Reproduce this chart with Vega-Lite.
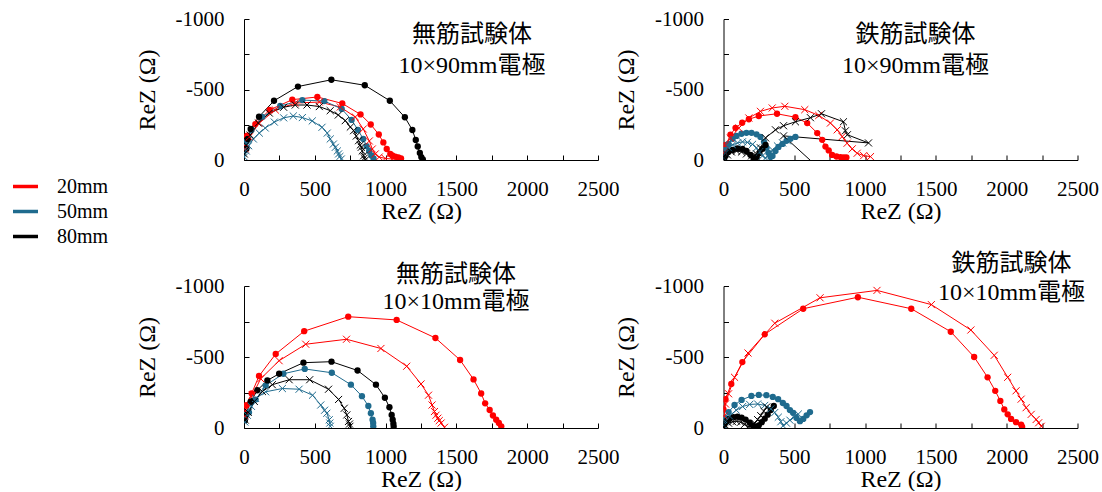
{
"$schema": "https://vega.github.io/schema/vega-lite/v6.json",
"padding": {"left": 11, "top": 8, "right": 0, "bottom": 0},
"autosize": {"type": "pad"},
"datasets": {"d": [
{"p":"A","s":"20mm","m":"o","x":6,"y":-92},{"p":"A","s":"20mm","m":"o","x":21,"y":-172},{"p":"A","s":"20mm","m":"o","x":80,"y":-255},{"p":"A","s":"20mm","m":"o","x":181,"y":-355},{"p":"A","s":"20mm","m":"o","x":341,"y":-428},{"p":"A","s":"20mm","m":"o","x":518,"y":-447},{"p":"A","s":"20mm","m":"o","x":694,"y":-401},{"p":"A","s":"20mm","m":"o","x":823,"y":-323},{"p":"A","s":"20mm","m":"o","x":895,"y":-252},{"p":"A","s":"20mm","m":"o","x":952,"y":-181},{"p":"A","s":"20mm","m":"o","x":984,"y":-125},{"p":"A","s":"20mm","m":"o","x":1008,"y":-78},{"p":"A","s":"20mm","m":"o","x":1033,"y":-43},{"p":"A","s":"20mm","m":"o","x":1047,"y":-32},{"p":"A","s":"20mm","m":"o","x":1068,"y":-23},{"p":"A","s":"20mm","m":"o","x":1090,"y":-18},{"p":"A","s":"20mm","m":"o","x":1109,"y":-12},
{"p":"A","s":"20mm","m":"x","x":9,"y":-78},{"p":"A","s":"20mm","m":"x","x":37,"y":-163},{"p":"A","s":"20mm","m":"x","x":108,"y":-262},{"p":"A","s":"20mm","m":"x","x":221,"y":-355},{"p":"A","s":"20mm","m":"x","x":362,"y":-404},{"p":"A","s":"20mm","m":"x","x":532,"y":-411},{"p":"A","s":"20mm","m":"x","x":680,"y":-376},{"p":"A","s":"20mm","m":"x","x":786,"y":-305},{"p":"A","s":"20mm","m":"x","x":842,"y":-220},{"p":"A","s":"20mm","m":"x","x":885,"y":-135},{"p":"A","s":"20mm","m":"x","x":906,"y":-78},{"p":"A","s":"20mm","m":"x","x":927,"y":-43},{"p":"A","s":"20mm","m":"x","x":955,"y":-21},{"p":"A","s":"20mm","m":"x","x":997,"y":-11},{"p":"A","s":"20mm","m":"x","x":1047,"y":-7},
{"p":"A","s":"50mm","m":"o","x":2,"y":-64},{"p":"A","s":"50mm","m":"o","x":16,"y":-128},{"p":"A","s":"50mm","m":"o","x":52,"y":-213},{"p":"A","s":"50mm","m":"o","x":129,"y":-305},{"p":"A","s":"50mm","m":"o","x":256,"y":-383},{"p":"A","s":"50mm","m":"o","x":412,"y":-425},{"p":"A","s":"50mm","m":"o","x":567,"y":-418},{"p":"A","s":"50mm","m":"o","x":690,"y":-362},{"p":"A","s":"50mm","m":"o","x":760,"y":-284},{"p":"A","s":"50mm","m":"o","x":805,"y":-213},{"p":"A","s":"50mm","m":"o","x":842,"y":-149},{"p":"A","s":"50mm","m":"o","x":866,"y":-99},{"p":"A","s":"50mm","m":"o","x":884,"y":-64},{"p":"A","s":"50mm","m":"o","x":900,"y":-32},{"p":"A","s":"50mm","m":"o","x":915,"y":-11},
{"p":"A","s":"50mm","m":"x","x":2,"y":-21},{"p":"A","s":"50mm","m":"x","x":16,"y":-64},{"p":"A","s":"50mm","m":"x","x":33,"y":-101},{"p":"A","s":"50mm","m":"x","x":66,"y":-149},{"p":"A","s":"50mm","m":"x","x":108,"y":-191},{"p":"A","s":"50mm","m":"x","x":150,"y":-227},{"p":"A","s":"50mm","m":"x","x":214,"y":-269},{"p":"A","s":"50mm","m":"x","x":280,"y":-299},{"p":"A","s":"50mm","m":"x","x":348,"y":-312},{"p":"A","s":"50mm","m":"x","x":412,"y":-301},{"p":"A","s":"50mm","m":"x","x":482,"y":-277},{"p":"A","s":"50mm","m":"x","x":551,"y":-232},{"p":"A","s":"50mm","m":"x","x":588,"y":-191},{"p":"A","s":"50mm","m":"x","x":609,"y":-149},{"p":"A","s":"50mm","m":"x","x":631,"y":-113},{"p":"A","s":"50mm","m":"x","x":645,"y":-90},{"p":"A","s":"50mm","m":"x","x":659,"y":-64},{"p":"A","s":"50mm","m":"x","x":668,"y":-43},{"p":"A","s":"50mm","m":"x","x":677,"y":-25},{"p":"A","s":"50mm","m":"x","x":687,"y":-7},
{"p":"A","s":"80mm","m":"o","x":16,"y":-78},{"p":"A","s":"80mm","m":"o","x":27,"y":-149},{"p":"A","s":"80mm","m":"o","x":47,"y":-220},{"p":"A","s":"80mm","m":"o","x":106,"y":-307},{"p":"A","s":"80mm","m":"o","x":212,"y":-420},{"p":"A","s":"80mm","m":"o","x":381,"y":-521},{"p":"A","s":"80mm","m":"o","x":617,"y":-569},{"p":"A","s":"80mm","m":"o","x":853,"y":-530},{"p":"A","s":"80mm","m":"o","x":1030,"y":-420},{"p":"A","s":"80mm","m":"o","x":1136,"y":-303},{"p":"A","s":"80mm","m":"o","x":1189,"y":-213},{"p":"A","s":"80mm","m":"o","x":1213,"y":-142},{"p":"A","s":"80mm","m":"o","x":1227,"y":-96},{"p":"A","s":"80mm","m":"o","x":1242,"y":-50},{"p":"A","s":"80mm","m":"o","x":1252,"y":-21},{"p":"A","s":"80mm","m":"o","x":1263,"y":-4},
{"p":"A","s":"80mm","m":"x","x":2,"y":-43},{"p":"A","s":"80mm","m":"x","x":16,"y":-106},{"p":"A","s":"80mm","m":"x","x":44,"y":-177},{"p":"A","s":"80mm","m":"x","x":101,"y":-262},{"p":"A","s":"80mm","m":"x","x":179,"y":-333},{"p":"A","s":"80mm","m":"x","x":280,"y":-374},{"p":"A","s":"80mm","m":"x","x":362,"y":-390},{"p":"A","s":"80mm","m":"x","x":445,"y":-390},{"p":"A","s":"80mm","m":"x","x":532,"y":-379},{"p":"A","s":"80mm","m":"x","x":609,"y":-350},{"p":"A","s":"80mm","m":"x","x":666,"y":-319},{"p":"A","s":"80mm","m":"x","x":715,"y":-279},{"p":"A","s":"80mm","m":"x","x":751,"y":-234},{"p":"A","s":"80mm","m":"x","x":774,"y":-208},{"p":"A","s":"80mm","m":"x","x":793,"y":-170},{"p":"A","s":"80mm","m":"x","x":809,"y":-137},{"p":"A","s":"80mm","m":"x","x":821,"y":-106},{"p":"A","s":"80mm","m":"x","x":828,"y":-90},{"p":"A","s":"80mm","m":"x","x":835,"y":-64},{"p":"A","s":"80mm","m":"x","x":845,"y":-30},{"p":"A","s":"80mm","m":"x","x":850,"y":-14},{"p":"A","s":"80mm","m":"x","x":857,"y":0},
{"p":"B","s":"20mm","m":"o","x":4,"y":-21},{"p":"B","s":"20mm","m":"o","x":7,"y":-57},{"p":"B","s":"20mm","m":"o","x":18,"y":-107},{"p":"B","s":"20mm","m":"o","x":49,"y":-179},{"p":"B","s":"20mm","m":"o","x":85,"y":-228},{"p":"B","s":"20mm","m":"o","x":132,"y":-264},{"p":"B","s":"20mm","m":"o","x":179,"y":-289},{"p":"B","s":"20mm","m":"o","x":249,"y":-312},{"p":"B","s":"20mm","m":"o","x":378,"y":-328},{"p":"B","s":"20mm","m":"o","x":508,"y":-303},{"p":"B","s":"20mm","m":"o","x":591,"y":-262},{"p":"B","s":"20mm","m":"o","x":662,"y":-191},{"p":"B","s":"20mm","m":"o","x":697,"y":-143},{"p":"B","s":"20mm","m":"o","x":720,"y":-95},{"p":"B","s":"20mm","m":"o","x":743,"y":-68},{"p":"B","s":"20mm","m":"o","x":767,"y":-36},{"p":"B","s":"20mm","m":"o","x":798,"y":-25},{"p":"B","s":"20mm","m":"o","x":826,"y":-21},{"p":"B","s":"20mm","m":"o","x":849,"y":-19},{"p":"B","s":"20mm","m":"o","x":868,"y":-18},
{"p":"B","s":"20mm","m":"x","x":7,"y":-57},{"p":"B","s":"20mm","m":"x","x":14,"y":-107},{"p":"B","s":"20mm","m":"x","x":49,"y":-155},{"p":"B","s":"20mm","m":"x","x":108,"y":-226},{"p":"B","s":"20mm","m":"x","x":179,"y":-298},{"p":"B","s":"20mm","m":"x","x":261,"y":-345},{"p":"B","s":"20mm","m":"x","x":344,"y":-369},{"p":"B","s":"20mm","m":"x","x":433,"y":-381},{"p":"B","s":"20mm","m":"x","x":574,"y":-357},{"p":"B","s":"20mm","m":"x","x":673,"y":-316},{"p":"B","s":"20mm","m":"x","x":755,"y":-262},{"p":"B","s":"20mm","m":"x","x":803,"y":-214},{"p":"B","s":"20mm","m":"x","x":838,"y":-166},{"p":"B","s":"20mm","m":"x","x":873,"y":-119},{"p":"B","s":"20mm","m":"x","x":909,"y":-79},{"p":"B","s":"20mm","m":"x","x":944,"y":-48},{"p":"B","s":"20mm","m":"x","x":990,"y":-31},{"p":"B","s":"20mm","m":"x","x":1038,"y":-24},
{"p":"B","s":"50mm","m":"o","x":4,"y":-21},{"p":"B","s":"50mm","m":"o","x":14,"y":-71},{"p":"B","s":"50mm","m":"o","x":35,"y":-114},{"p":"B","s":"50mm","m":"o","x":64,"y":-150},{"p":"B","s":"50mm","m":"o","x":92,"y":-171},{"p":"B","s":"50mm","m":"o","x":127,"y":-186},{"p":"B","s":"50mm","m":"o","x":162,"y":-193},{"p":"B","s":"50mm","m":"o","x":198,"y":-193},{"p":"B","s":"50mm","m":"o","x":233,"y":-182},{"p":"B","s":"50mm","m":"o","x":261,"y":-164},{"p":"B","s":"50mm","m":"o","x":286,"y":-129},{"p":"B","s":"50mm","m":"o","x":304,"y":-86},{"p":"B","s":"50mm","m":"o","x":318,"y":-50},{"p":"B","s":"50mm","m":"o","x":332,"y":-21},{"p":"B","s":"50mm","m":"o","x":346,"y":-29},{"p":"B","s":"50mm","m":"o","x":367,"y":-64},{"p":"B","s":"50mm","m":"o","x":388,"y":-93},{"p":"B","s":"50mm","m":"o","x":417,"y":-114},{"p":"B","s":"50mm","m":"o","x":445,"y":-136},{"p":"B","s":"50mm","m":"o","x":473,"y":-150},{"p":"B","s":"50mm","m":"o","x":508,"y":-164},
{"p":"B","s":"50mm","m":"x","x":4,"y":-14},{"p":"B","s":"50mm","m":"x","x":14,"y":-50},{"p":"B","s":"50mm","m":"x","x":35,"y":-86},{"p":"B","s":"50mm","m":"x","x":64,"y":-107},{"p":"B","s":"50mm","m":"x","x":99,"y":-121},{"p":"B","s":"50mm","m":"x","x":134,"y":-129},{"p":"B","s":"50mm","m":"x","x":169,"y":-125},{"p":"B","s":"50mm","m":"x","x":205,"y":-111},{"p":"B","s":"50mm","m":"x","x":233,"y":-86},{"p":"B","s":"50mm","m":"x","x":254,"y":-57},{"p":"B","s":"50mm","m":"x","x":275,"y":-29},{"p":"B","s":"50mm","m":"x","x":297,"y":-14},{"p":"B","s":"50mm","m":"x","x":318,"y":-36},{"p":"B","s":"50mm","m":"x","x":346,"y":-71},{"p":"B","s":"50mm","m":"x","x":381,"y":-100},{"p":"B","s":"50mm","m":"x","x":417,"y":-121},{"p":"B","s":"50mm","m":"x","x":452,"y":-136},
{"p":"B","s":"80mm","m":"o","x":4,"y":-7},{"p":"B","s":"80mm","m":"o","x":14,"y":-29},{"p":"B","s":"80mm","m":"o","x":35,"y":-57},{"p":"B","s":"80mm","m":"o","x":64,"y":-71},{"p":"B","s":"80mm","m":"o","x":99,"y":-82},{"p":"B","s":"80mm","m":"o","x":134,"y":-79},{"p":"B","s":"80mm","m":"o","x":162,"y":-64},{"p":"B","s":"80mm","m":"o","x":191,"y":-36},{"p":"B","s":"80mm","m":"o","x":212,"y":-11},{"p":"B","s":"80mm","m":"o","x":233,"y":-21},{"p":"B","s":"80mm","m":"o","x":254,"y":-50},{"p":"B","s":"80mm","m":"o","x":275,"y":-79},{"p":"B","s":"80mm","m":"o","x":297,"y":-107},
{"p":"B","s":"80mm","m":"x","x":7,"y":-14},{"p":"B","s":"80mm","m":"x","x":28,"y":-36},{"p":"B","s":"80mm","m":"x","x":56,"y":-57},{"p":"B","s":"80mm","m":"x","x":92,"y":-64},{"p":"B","s":"80mm","m":"x","x":127,"y":-57},{"p":"B","s":"80mm","m":"x","x":162,"y":-43},{"p":"B","s":"80mm","m":"x","x":198,"y":-29},{"p":"B","s":"80mm","m":"x","x":233,"y":-43},{"p":"B","s":"80mm","m":"x","x":261,"y":-86},{"p":"B","s":"80mm","m":"x","x":297,"y":-157},{"p":"B","s":"80mm","m":"x","x":367,"y":-214},{"p":"B","s":"80mm","m":"x","x":424,"y":-243},{"p":"B","s":"80mm","m":"x","x":508,"y":-271},{"p":"B","s":"80mm","m":"x","x":614,"y":-300},{"p":"B","s":"80mm","m":"x","x":692,"y":-328},{"p":"B","s":"80mm","m":"x","x":847,"y":-271},{"p":"B","s":"80mm","m":"x","x":861,"y":-207},{"p":"B","s":"80mm","m":"x","x":875,"y":-179},{"p":"B","s":"80mm","m":"x","x":1024,"y":-121},{"p":"B","s":"80mm","m":"x","x":424,"y":-171},{"p":"B","s":"80mm","m":"x","x":755,"y":132},
{"p":"C","s":"20mm","m":"o","x":1,"y":-69},{"p":"C","s":"20mm","m":"o","x":16,"y":-160},{"p":"C","s":"20mm","m":"o","x":54,"y":-243},{"p":"C","s":"20mm","m":"o","x":106,"y":-366},{"p":"C","s":"20mm","m":"o","x":224,"y":-521},{"p":"C","s":"20mm","m":"o","x":425,"y":-682},{"p":"C","s":"20mm","m":"o","x":736,"y":-784},{"p":"C","s":"20mm","m":"o","x":1078,"y":-761},{"p":"C","s":"20mm","m":"o","x":1352,"y":-634},{"p":"C","s":"20mm","m":"o","x":1526,"y":-479},{"p":"C","s":"20mm","m":"o","x":1621,"y":-342},{"p":"C","s":"20mm","m":"o","x":1675,"y":-243},{"p":"C","s":"20mm","m":"o","x":1703,"y":-174},{"p":"C","s":"20mm","m":"o","x":1735,"y":-127},{"p":"C","s":"20mm","m":"o","x":1758,"y":-88},{"p":"C","s":"20mm","m":"o","x":1781,"y":-58},{"p":"C","s":"20mm","m":"o","x":1800,"y":-35},{"p":"C","s":"20mm","m":"o","x":1817,"y":-12},
{"p":"C","s":"20mm","m":"x","x":6,"y":-83},{"p":"C","s":"20mm","m":"x","x":11,"y":-127},{"p":"C","s":"20mm","m":"x","x":59,"y":-231},{"p":"C","s":"20mm","m":"x","x":118,"y":-347},{"p":"C","s":"20mm","m":"x","x":248,"y":-474},{"p":"C","s":"20mm","m":"x","x":436,"y":-590},{"p":"C","s":"20mm","m":"x","x":724,"y":-625},{"p":"C","s":"20mm","m":"x","x":967,"y":-560},{"p":"C","s":"20mm","m":"x","x":1149,"y":-435},{"p":"C","s":"20mm","m":"x","x":1250,"y":-310},{"p":"C","s":"20mm","m":"x","x":1303,"y":-231},{"p":"C","s":"20mm","m":"x","x":1328,"y":-162},{"p":"C","s":"20mm","m":"x","x":1345,"y":-116},{"p":"C","s":"20mm","m":"x","x":1356,"y":-90},{"p":"C","s":"20mm","m":"x","x":1369,"y":-69},{"p":"C","s":"20mm","m":"x","x":1379,"y":-52},{"p":"C","s":"20mm","m":"x","x":1392,"y":-35},{"p":"C","s":"20mm","m":"x","x":1416,"y":-5},
{"p":"C","s":"50mm","m":"o","x":6,"y":-55},{"p":"C","s":"50mm","m":"o","x":35,"y":-110},{"p":"C","s":"50mm","m":"o","x":82,"y":-200},{"p":"C","s":"50mm","m":"o","x":153,"y":-300},{"p":"C","s":"50mm","m":"o","x":278,"y":-382},{"p":"C","s":"50mm","m":"o","x":429,"y":-416},{"p":"C","s":"50mm","m":"o","x":620,"y":-389},{"p":"C","s":"50mm","m":"o","x":755,"y":-305},{"p":"C","s":"50mm","m":"o","x":833,"y":-224},{"p":"C","s":"50mm","m":"o","x":878,"y":-155},{"p":"C","s":"50mm","m":"o","x":896,"y":-104},{"p":"C","s":"50mm","m":"o","x":908,"y":-58},{"p":"C","s":"50mm","m":"o","x":912,"y":-35},{"p":"C","s":"50mm","m":"o","x":913,"y":-12},
{"p":"C","s":"50mm","m":"x","x":6,"y":-42},{"p":"C","s":"50mm","m":"x","x":23,"y":-90},{"p":"C","s":"50mm","m":"x","x":52,"y":-153},{"p":"C","s":"50mm","m":"x","x":82,"y":-208},{"p":"C","s":"50mm","m":"x","x":153,"y":-255},{"p":"C","s":"50mm","m":"x","x":271,"y":-278},{"p":"C","s":"50mm","m":"x","x":389,"y":-273},{"p":"C","s":"50mm","m":"x","x":484,"y":-231},{"p":"C","s":"50mm","m":"x","x":542,"y":-162},{"p":"C","s":"50mm","m":"x","x":569,"y":-125},{"p":"C","s":"50mm","m":"x","x":585,"y":-104},{"p":"C","s":"50mm","m":"x","x":602,"y":-58},{"p":"C","s":"50mm","m":"x","x":606,"y":-35},{"p":"C","s":"50mm","m":"x","x":609,"y":-12},
{"p":"C","s":"80mm","m":"o","x":6,"y":-56},{"p":"C","s":"80mm","m":"o","x":11,"y":-92},{"p":"C","s":"80mm","m":"o","x":47,"y":-185},{"p":"C","s":"80mm","m":"o","x":94,"y":-266},{"p":"C","s":"80mm","m":"o","x":165,"y":-335},{"p":"C","s":"80mm","m":"o","x":248,"y":-382},{"p":"C","s":"80mm","m":"o","x":420,"y":-460},{"p":"C","s":"80mm","m":"o","x":618,"y":-467},{"p":"C","s":"80mm","m":"o","x":802,"y":-405},{"p":"C","s":"80mm","m":"o","x":932,"y":-305},{"p":"C","s":"80mm","m":"o","x":995,"y":-213},{"p":"C","s":"80mm","m":"o","x":1027,"y":-146},{"p":"C","s":"80mm","m":"o","x":1043,"y":-92},{"p":"C","s":"80mm","m":"o","x":1050,"y":-58},{"p":"C","s":"80mm","m":"o","x":1055,"y":-30},{"p":"C","s":"80mm","m":"o","x":1057,"y":-10},
{"p":"C","s":"80mm","m":"x","x":9,"y":-56},{"p":"C","s":"80mm","m":"x","x":30,"y":-111},{"p":"C","s":"80mm","m":"x","x":73,"y":-187},{"p":"C","s":"80mm","m":"x","x":130,"y":-257},{"p":"C","s":"80mm","m":"x","x":200,"y":-305},{"p":"C","s":"80mm","m":"x","x":319,"y":-340},{"p":"C","s":"80mm","m":"x","x":464,"y":-340},{"p":"C","s":"80mm","m":"x","x":597,"y":-273},{"p":"C","s":"80mm","m":"x","x":668,"y":-201},{"p":"C","s":"80mm","m":"x","x":708,"y":-139},{"p":"C","s":"80mm","m":"x","x":726,"y":-92},{"p":"C","s":"80mm","m":"x","x":738,"y":-46},{"p":"C","s":"80mm","m":"x","x":745,"y":-28},{"p":"C","s":"80mm","m":"x","x":748,"y":-12},
{"p":"D","s":"20mm","m":"o","x":0,"y":-131},{"p":"D","s":"20mm","m":"o","x":14,"y":-203},{"p":"D","s":"20mm","m":"o","x":55,"y":-310},{"p":"D","s":"20mm","m":"o","x":133,"y":-464},{"p":"D","s":"20mm","m":"o","x":291,"y":-660},{"p":"D","s":"20mm","m":"o","x":563,"y":-840},{"p":"D","s":"20mm","m":"o","x":949,"y":-921},{"p":"D","s":"20mm","m":"o","x":1326,"y":-840},{"p":"D","s":"20mm","m":"o","x":1605,"y":-678},{"p":"D","s":"20mm","m":"o","x":1770,"y":-500},{"p":"D","s":"20mm","m":"o","x":1865,"y":-357},{"p":"D","s":"20mm","m":"o","x":1919,"y":-262},{"p":"D","s":"20mm","m":"o","x":1955,"y":-191},{"p":"D","s":"20mm","m":"o","x":1983,"y":-131},{"p":"D","s":"20mm","m":"o","x":2007,"y":-96},{"p":"D","s":"20mm","m":"o","x":2031,"y":-64},{"p":"D","s":"20mm","m":"o","x":2066,"y":-41},{"p":"D","s":"20mm","m":"o","x":2102,"y":-24},{"p":"D","s":"20mm","m":"o","x":2109,"y":-7},
{"p":"D","s":"20mm","m":"x","x":4,"y":-84},{"p":"D","s":"20mm","m":"x","x":14,"y":-169},{"p":"D","s":"20mm","m":"x","x":36,"y":-241},{"p":"D","s":"20mm","m":"x","x":78,"y":-357},{"p":"D","s":"20mm","m":"x","x":173,"y":-528},{"p":"D","s":"20mm","m":"x","x":362,"y":-738},{"p":"D","s":"20mm","m":"x","x":682,"y":-917},{"p":"D","s":"20mm","m":"x","x":1084,"y":-969},{"p":"D","s":"20mm","m":"x","x":1468,"y":-869},{"p":"D","s":"20mm","m":"x","x":1747,"y":-690},{"p":"D","s":"20mm","m":"x","x":1912,"y":-512},{"p":"D","s":"20mm","m":"x","x":2007,"y":-357},{"p":"D","s":"20mm","m":"x","x":2066,"y":-262},{"p":"D","s":"20mm","m":"x","x":2102,"y":-203},{"p":"D","s":"20mm","m":"x","x":2137,"y":-143},{"p":"D","s":"20mm","m":"x","x":2173,"y":-96},{"p":"D","s":"20mm","m":"x","x":2208,"y":-60},{"p":"D","s":"20mm","m":"x","x":2226,"y":-37},{"p":"D","s":"20mm","m":"x","x":2244,"y":-12},
{"p":"D","s":"50mm","m":"o","x":0,"y":-26},{"p":"D","s":"50mm","m":"o","x":14,"y":-69},{"p":"D","s":"50mm","m":"o","x":36,"y":-112},{"p":"D","s":"50mm","m":"o","x":78,"y":-162},{"p":"D","s":"50mm","m":"o","x":128,"y":-198},{"p":"D","s":"50mm","m":"o","x":197,"y":-226},{"p":"D","s":"50mm","m":"o","x":249,"y":-233},{"p":"D","s":"50mm","m":"o","x":303,"y":-231},{"p":"D","s":"50mm","m":"o","x":348,"y":-219},{"p":"D","s":"50mm","m":"o","x":386,"y":-203},{"p":"D","s":"50mm","m":"o","x":419,"y":-176},{"p":"D","s":"50mm","m":"o","x":445,"y":-155},{"p":"D","s":"50mm","m":"o","x":469,"y":-126},{"p":"D","s":"50mm","m":"o","x":492,"y":-107},{"p":"D","s":"50mm","m":"o","x":516,"y":-71},{"p":"D","s":"50mm","m":"o","x":540,"y":-48},{"p":"D","s":"50mm","m":"o","x":563,"y":-64},{"p":"D","s":"50mm","m":"o","x":587,"y":-89},{"p":"D","s":"50mm","m":"o","x":611,"y":-112},
{"p":"D","s":"50mm","m":"x","x":0,"y":-19},{"p":"D","s":"50mm","m":"x","x":14,"y":-48},{"p":"D","s":"50mm","m":"x","x":43,"y":-84},{"p":"D","s":"50mm","m":"x","x":90,"y":-126},{"p":"D","s":"50mm","m":"x","x":135,"y":-151},{"p":"D","s":"50mm","m":"x","x":185,"y":-166},{"p":"D","s":"50mm","m":"x","x":241,"y":-169},{"p":"D","s":"50mm","m":"x","x":291,"y":-159},{"p":"D","s":"50mm","m":"x","x":334,"y":-134},{"p":"D","s":"50mm","m":"x","x":362,"y":-109},{"p":"D","s":"50mm","m":"x","x":387,"y":-76},{"p":"D","s":"50mm","m":"x","x":405,"y":-44},{"p":"D","s":"50mm","m":"x","x":421,"y":-16},{"p":"D","s":"50mm","m":"x","x":445,"y":-34},{"p":"D","s":"50mm","m":"x","x":469,"y":-55},{"p":"D","s":"50mm","m":"x","x":497,"y":-76},{"p":"D","s":"50mm","m":"x","x":528,"y":-98},
{"p":"D","s":"80mm","m":"o","x":0,"y":-5},{"p":"D","s":"80mm","m":"o","x":7,"y":-26},{"p":"D","s":"80mm","m":"o","x":21,"y":-48},{"p":"D","s":"80mm","m":"o","x":43,"y":-66},{"p":"D","s":"80mm","m":"o","x":71,"y":-76},{"p":"D","s":"80mm","m":"o","x":99,"y":-80},{"p":"D","s":"80mm","m":"o","x":128,"y":-73},{"p":"D","s":"80mm","m":"o","x":156,"y":-59},{"p":"D","s":"80mm","m":"o","x":185,"y":-37},{"p":"D","s":"80mm","m":"o","x":209,"y":-16},{"p":"D","s":"80mm","m":"o","x":231,"y":-5},{"p":"D","s":"80mm","m":"o","x":249,"y":-19},{"p":"D","s":"80mm","m":"o","x":270,"y":-41},{"p":"D","s":"80mm","m":"o","x":291,"y":-66},{"p":"D","s":"80mm","m":"o","x":312,"y":-94},{"p":"D","s":"80mm","m":"o","x":334,"y":-126},{"p":"D","s":"80mm","m":"o","x":355,"y":-155},
{"p":"D","s":"80mm","m":"x","x":0,"y":-5},{"p":"D","s":"80mm","m":"x","x":14,"y":-19},{"p":"D","s":"80mm","m":"x","x":36,"y":-34},{"p":"D","s":"80mm","m":"x","x":64,"y":-44},{"p":"D","s":"80mm","m":"x","x":92,"y":-48},{"p":"D","s":"80mm","m":"x","x":121,"y":-41},{"p":"D","s":"80mm","m":"x","x":149,"y":-26},{"p":"D","s":"80mm","m":"x","x":174,"y":-9},{"p":"D","s":"80mm","m":"x","x":195,"y":-12},{"p":"D","s":"80mm","m":"x","x":220,"y":-34},{"p":"D","s":"80mm","m":"x","x":241,"y":-59},{"p":"D","s":"80mm","m":"x","x":263,"y":-87},{"p":"D","s":"80mm","m":"x","x":284,"y":-119},{"p":"D","s":"80mm","m":"x","x":305,"y":-148}
]},
"columns": 2,
"spacing": {"row": 126, "column": 125.5},
"bounds": "flush",
"concat": [
{"width": 354, "height": 141,
 "title": {"text": ["無筋試験体", "10×90mm電極"], "dx": 51, "offset": -69.5, "lineHeight": 31},
 "data": {"name": "d"}, "transform": [{"filter": "datum.p === 'A'"}],
 "encoding": {
  "x": {"field": "x", "type": "quantitative", "scale": {"domain": [0, 2500], "nice": false}, "axis": {"title": "ReZ (Ω)", "values": [0,250,500,750,1000,1250,1500,1750,2000,2250,2500], "labelExpr": "datum.value % 500 === 0 ? '' + datum.value : ''"}},
  "y": {"field": "y", "type": "quantitative", "scale": {"domain": [-1000, 0], "reverse": true, "nice": false}, "axis": {"title": "ReZ (Ω)", "values": [-1000,-750,-500,-250,0], "labelExpr": "datum.value % 500 === 0 ? '' + datum.value : ''"}}
 },
 "layer": [
  {"mark": {"type": "line", "strokeWidth": 1, "clip": true}, "encoding": {"color": {"field": "s", "type": "nominal", "legend": {"orient": "none", "legendX": -233, "legendY": 153, "title": null}}, "detail": {"field": "m"}, "order": {"value": null}}},
  {"transform": [{"filter": "datum.m === 'o'"}], "mark": {"type": "point", "shape": "circle", "filled": true, "size": 40, "opacity": 1, "clip": true}, "encoding": {"fill": {"field": "s", "type": "nominal", "legend": null}}},
  {"transform": [{"filter": "datum.m === 'x'"}], "mark": {"type": "point", "shape": "M-1,-1L1,1M-1,1L1,-1", "filled": false, "size": 50, "strokeWidth": 1, "opacity": 1, "clip": true}, "encoding": {"stroke": {"field": "s", "type": "nominal", "legend": null}}}
 ]},
{"width": 354, "height": 141,
 "title": {"text": ["鉄筋試験体", "10×90mm電極"], "dx": 15, "offset": -69.5, "lineHeight": 31},
 "data": {"name": "d"}, "transform": [{"filter": "datum.p === 'B'"}],
 "encoding": {
  "x": {"field": "x", "type": "quantitative", "scale": {"domain": [0, 2500], "nice": false}, "axis": {"title": "ReZ (Ω)", "values": [0,250,500,750,1000,1250,1500,1750,2000,2250,2500], "labelExpr": "datum.value % 500 === 0 ? '' + datum.value : ''"}},
  "y": {"field": "y", "type": "quantitative", "scale": {"domain": [-1000, 0], "reverse": true, "nice": false}, "axis": {"title": "ReZ (Ω)", "values": [-1000,-750,-500,-250,0], "labelExpr": "datum.value % 500 === 0 ? '' + datum.value : ''"}}
 },
 "layer": [
  {"mark": {"type": "line", "strokeWidth": 1, "clip": true}, "encoding": {"color": {"field": "s", "type": "nominal", "legend": {"orient": "none", "legendX": -233, "legendY": 153, "title": null}}, "detail": {"field": "m"}, "order": {"value": null}}},
  {"transform": [{"filter": "datum.m === 'o'"}], "mark": {"type": "point", "shape": "circle", "filled": true, "size": 40, "opacity": 1, "clip": true}, "encoding": {"fill": {"field": "s", "type": "nominal", "legend": null}}},
  {"transform": [{"filter": "datum.m === 'x'"}], "mark": {"type": "point", "shape": "M-1,-1L1,1M-1,1L1,-1", "filled": false, "size": 50, "strokeWidth": 1, "opacity": 1, "clip": true}, "encoding": {"stroke": {"field": "s", "type": "nominal", "legend": null}}}
 ]},
{"width": 354, "height": 142,
 "title": {"text": ["無筋試験体", "10×10mm電極"], "dx": 35, "offset": -38.5, "lineHeight": 27},
 "data": {"name": "d"}, "transform": [{"filter": "datum.p === 'C'"}],
 "encoding": {
  "x": {"field": "x", "type": "quantitative", "scale": {"domain": [0, 2500], "nice": false}, "axis": {"title": "ReZ (Ω)", "values": [0,250,500,750,1000,1250,1500,1750,2000,2250,2500], "labelExpr": "datum.value % 500 === 0 ? '' + datum.value : ''"}},
  "y": {"field": "y", "type": "quantitative", "scale": {"domain": [-1000, 0], "reverse": true, "nice": false}, "axis": {"title": "ReZ (Ω)", "values": [-1000,-750,-500,-250,0], "labelExpr": "datum.value % 500 === 0 ? '' + datum.value : ''"}}
 },
 "layer": [
  {"mark": {"type": "line", "strokeWidth": 1, "clip": true}, "encoding": {"color": {"field": "s", "type": "nominal", "legend": {"orient": "none", "legendX": -233, "legendY": 153, "title": null}}, "detail": {"field": "m"}, "order": {"value": null}}},
  {"transform": [{"filter": "datum.m === 'o'"}], "mark": {"type": "point", "shape": "circle", "filled": true, "size": 40, "opacity": 1, "clip": true}, "encoding": {"fill": {"field": "s", "type": "nominal", "legend": null}}},
  {"transform": [{"filter": "datum.m === 'x'"}], "mark": {"type": "point", "shape": "M-1,-1L1,1M-1,1L1,-1", "filled": false, "size": 50, "strokeWidth": 1, "opacity": 1, "clip": true}, "encoding": {"stroke": {"field": "s", "type": "nominal", "legend": null}}}
 ]},
{"width": 354, "height": 142,
 "title": {"text": ["鉄筋試験体", "10×10mm電極"], "dx": 111, "offset": -29.5, "lineHeight": 28.5},
 "data": {"name": "d"}, "transform": [{"filter": "datum.p === 'D'"}],
 "encoding": {
  "x": {"field": "x", "type": "quantitative", "scale": {"domain": [0, 2500], "nice": false}, "axis": {"title": "ReZ (Ω)", "values": [0,250,500,750,1000,1250,1500,1750,2000,2250,2500], "labelExpr": "datum.value % 500 === 0 ? '' + datum.value : ''"}},
  "y": {"field": "y", "type": "quantitative", "scale": {"domain": [-1000, 0], "reverse": true, "nice": false}, "axis": {"title": "ReZ (Ω)", "values": [-1000,-750,-500,-250,0], "labelExpr": "datum.value % 500 === 0 ? '' + datum.value : ''"}}
 },
 "layer": [
  {"mark": {"type": "line", "strokeWidth": 1, "clip": true}, "encoding": {"color": {"field": "s", "type": "nominal", "legend": {"orient": "none", "legendX": -233, "legendY": 153, "title": null}}, "detail": {"field": "m"}, "order": {"value": null}}},
  {"transform": [{"filter": "datum.m === 'o'"}], "mark": {"type": "point", "shape": "circle", "filled": true, "size": 40, "opacity": 1, "clip": true}, "encoding": {"fill": {"field": "s", "type": "nominal", "legend": null}}},
  {"transform": [{"filter": "datum.m === 'x'"}], "mark": {"type": "point", "shape": "M-1,-1L1,1M-1,1L1,-1", "filled": false, "size": 50, "strokeWidth": 1, "opacity": 1, "clip": true}, "encoding": {"stroke": {"field": "s", "type": "nominal", "legend": null}}}
 ]}
],
"config": {
 "view": {"stroke": null},
 "background": "white",
 "range": {"category": ["#ff0000", "#1f6b8e", "#000000"]},
 "axis": {"grid": false, "domainColor": "#000000", "domainWidth": 1, "tickColor": "#000000", "tickSize": -5, "labelFont": "Liberation Serif", "labelFontSize": 21, "labelColor": "#000000", "labelPadding": 25, "labelFlush": false, "labelOverlap": false, "titleFont": "Liberation Serif", "titleFontSize": 24, "titleFontWeight": "normal", "titleColor": "#000000"},
 "axisX": {"labelPadding": 23, "titlePadding": 0},
 "axisY": {"titlePadding": 16},
 "legend": {"symbolType": "stroke", "symbolSize": 625, "symbolStrokeWidth": 3.5, "labelFont": "Liberation Serif", "labelFontSize": 20, "labelColor": "#000000", "labelOffset": 17, "rowPadding": 0, "padding": 0},
 "title": {"font": "'Liberation Serif', 'Noto Sans CJK JP'", "fontSize": 24, "fontWeight": "normal", "color": "#000000", "anchor": "middle", "frame": "group"}
}
}
